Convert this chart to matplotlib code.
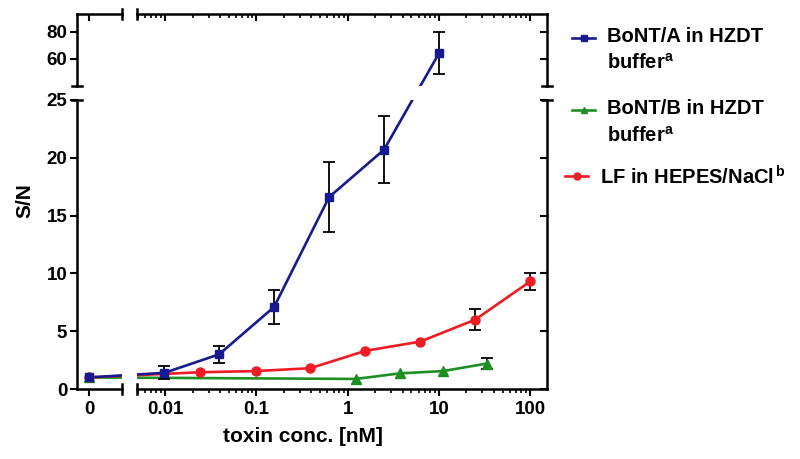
import matplotlib.pyplot as plt
import matplotlib.lines as mlines
from matplotlib.ticker import LogLocator, NullFormatter, FixedLocator

plt.rcParams['font.family'] = ['Liberation Sans', 'DejaVu Sans']
plt.rcParams['font.weight'] = 'bold'
plt.rcParams['mathtext.fontset'] = 'custom'
plt.rcParams['mathtext.bf'] = 'Liberation Sans:bold'
plt.rcParams['mathtext.rm'] = 'Liberation Sans:bold'

# BoNT/A in HZDT buffer
a_conc = [0, 0.0098, 0.039, 0.156, 0.625, 2.5, 10]
a_sn = [1.0, 1.4, 3.0, 7.1, 16.6, 20.7, 64.0]
a_err = [0, 0.55, 0.75, 1.5, 3.0, 2.9, 15.5]

# BoNT/B in HZDT buffer
b_conc = [0, 1.23, 3.7, 11.1, 33.3]
b_sn = [1.0, 0.87, 1.35, 1.55, 2.2]
b_err = [0, 0, 0, 0, 0.45]

# LF in HEPES/NaCl
lf_conc = [0, 0.024, 0.098, 0.39, 1.56, 6.25, 25, 100]
lf_sn = [1.0, 1.45, 1.55, 1.8, 3.3, 4.1, 6.0, 9.3]
lf_err = [0, 0, 0, 0, 0, 0, 0.9, 0.75]

xticks = [0.01, 0.1, 1, 10, 100]
xtick_labels = ['0.01', '0.1', '1', '10', '100']

blue = '#161a8e'
green = '#1e8f23'
red = '#ee1c24'

W, H = 800, 459
def rect(x0, x1, y0, y1):
    return [x0 / W, 1 - y1 / H, (x1 - x0) / W, (y1 - y0) / H]

fig = plt.figure(figsize=(8, 4.59), dpi=100)
ax_zl = fig.add_axes(rect(77, 122, 100, 389))
ax_ll = fig.add_axes(rect(137, 547, 100, 389))
ax_zt = fig.add_axes(rect(77, 122, 14, 86))
ax_lt = fig.add_axes(rect(137, 547, 14, 86))
axes = [ax_zl, ax_ll, ax_zt, ax_lt]

spine_lw = 1.8
for ax in axes:
    ax.set_facecolor('none')
    ax.set_autoscale_on(False)
    for s in ax.spines.values():
        s.set_visible(False)
        s.set_linewidth(spine_lw)
    ax.tick_params(which='major', length=5, width=1.5, labelsize=13.5, pad=2)
    ax.tick_params(which='minor', length=3, width=1.2)

for ax in [ax_zl, ax_zt]:
    ax.set_xlim(-1, 2.75)
    ax.xaxis.set_major_locator(FixedLocator([0]))
for ax in [ax_ll, ax_lt]:
    ax.set_xscale('log')
    ax.set_xlim(0.0049, 153)
    ax.set_xticks(xticks)
    ax.xaxis.set_minor_locator(LogLocator(base=10, subs=range(2, 10), numticks=20))
    ax.xaxis.set_minor_formatter(NullFormatter())
for ax in [ax_zl, ax_ll]:
    ax.set_ylim(0, 25)
    ax.set_yticks([0, 5, 10, 15, 20, 25])
for ax in [ax_zt, ax_lt]:
    ax.set_ylim(40, 93)
    ax.set_yticks([60, 80])

# lower-left: left and bottom axes
ax_zl.spines['left'].set_visible(True)
ax_zl.spines['bottom'].set_visible(True)
ax_zl.set_xticklabels(['0'])
ax_zl.tick_params(axis='x', pad=4)
# lower-right: bottom and mirrored right axis
ax_ll.spines['bottom'].set_visible(True)
ax_ll.spines['right'].set_visible(True)
ax_ll.set_xticklabels(xtick_labels)
ax_ll.tick_params(axis='x', which='both', pad=4)
ax_ll.tick_params(axis='y', left=False, right=True, labelleft=False, direction='in')
# top-left: left axis and mirrored top axis
ax_zt.spines['left'].set_visible(True)
ax_zt.spines['top'].set_visible(True)
ax_zt.tick_params(axis='x', bottom=False, top=True, labelbottom=False, direction='in')
# top-right: mirrored top and right axes
ax_lt.spines['top'].set_visible(True)
ax_lt.spines['right'].set_visible(True)
ax_lt.tick_params(axis='x', which='both', bottom=False, top=True, labelbottom=False, direction='in')
ax_lt.tick_params(axis='y', left=False, right=True, labelleft=False, direction='in')

# small caps at the ends of the broken axes
to_fig = fig.transFigure.inverted()
def cap(ax, xa, ya, vertical):
    px, py = to_fig.transform(ax.transAxes.transform((xa, ya)))
    if vertical:
        xs, ys = [px, px], [py - 5 / H, py + 5 / H]
    else:
        xs, ys = [px - 5 / W, px + 5 / W], [py, py]
    fig.add_artist(mlines.Line2D(xs, ys, color='black', lw=spine_lw))

cap(ax_zt, 0, 0, False)
cap(ax_zl, 0, 1, False)
cap(ax_lt, 1, 0, False)
cap(ax_ll, 1, 1, False)
cap(ax_zl, 1, 0, True)
cap(ax_ll, 0, 0, True)
cap(ax_zt, 1, 1, True)
cap(ax_lt, 0, 1, True)


def pick(x, y):
    if y > 25:
        return ax_zt if x == 0 else ax_lt
    return ax_zl if x == 0 else ax_ll


def draw_series(xs, ys, errs, color, marker, ms):
    # line in figure coordinates so it runs straight across the breaks
    pts = [to_fig.transform(pick(x, y).transData.transform((x, y))) for x, y in zip(xs, ys)]
    fx = [p[0] for p in pts]
    fy = [p[1] for p in pts]
    for ax in axes:
        ax.plot(fx, fy, color=color, lw=1.9, transform=fig.transFigure, zorder=2)
    for x, y, e in zip(xs, ys, errs):
        ax = pick(x, y)
        if e > 0:
            ax.errorbar([x], [y], yerr=[e], fmt='none', ecolor='black', elinewidth=1.3,
                        capsize=4, capthick=1.3, zorder=3, clip_on=False)
        ax.plot([x], [y], marker=marker, ms=ms, color=color, ls='none', zorder=4, clip_on=False)


draw_series(b_conc, b_sn, b_err, green, '^', 6.5)
draw_series(lf_conc, lf_sn, lf_err, red, 'o', 6.5)
draw_series(a_conc, a_sn, a_err, blue, 's', 6)

# axis titles
fig.text(25 / W, 1 - 201 / H, 'S/N', rotation=90, ha='center', va='center', fontsize=15)
fig.text(303 / W, 1 - 436 / H, 'toxin conc. [nM]', ha='center', va='center', fontsize=15)

# legend
legend_items = [
    (blue, 's', 572, 38, 607, 'BoNT/A in HZDT\nbuffer$^{\\mathbf{a}}$'),
    (green, '^', 572, 110, 607, 'BoNT/B in HZDT\nbuffer$^{\\mathbf{a}}$'),
    (red, 'o', 565, 176, 600, 'LF in HEPES/NaCl$^{\\,\\mathbf{b}}$'),
]
for color, marker, lx, ly, tx, label in legend_items:
    fig.add_artist(mlines.Line2D([lx / W, (lx + 23) / W], [1 - ly / H, 1 - ly / H],
                                 color=color, lw=1.9))
    fig.add_artist(mlines.Line2D([(lx + 11.5) / W], [1 - ly / H], color=color,
                                 marker=marker, ms=5))
    fig.text(tx / W, 1 - (ly - 11) / H, label, ha='left', va='top', fontsize=14.5,
             linespacing=1.45)

fig.savefig('out.png', dpi=100)
